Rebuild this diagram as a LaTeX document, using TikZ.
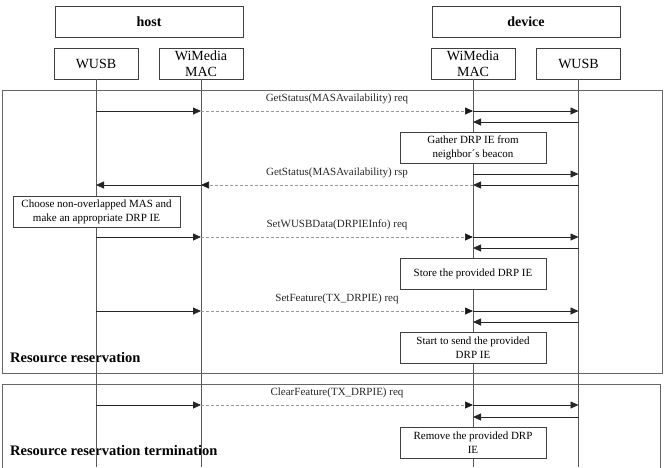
\documentclass[tikz,border=0pt]{standalone}
\usepackage{fontspec}
\setmainfont{Liberation Serif}
\usetikzlibrary{positioning, arrows.meta}
\tikzset{
group/.style={draw=black!75, minimum width=188pt, minimum height=31pt, inner sep=0pt, font=\fontsize{14}{16}\selectfont\bfseries},
part/.style={draw=black!75, minimum width=84pt, minimum height=31pt, inner sep=0pt, align=center, font=\fontsize{14}{16}\selectfont},
note/.style={draw=black!75, fill=white, minimum width=146pt, minimum height=31pt, inner sep=1pt, align=center, font=\fontsize{11}{14}\selectfont},
lifeline/.style={draw=black!65, line width=0.9pt},
frame/.style={draw=black!60, line width=1pt},
call/.style={draw=black!85, line width=0.8pt, -{Triangle[length=8pt,width=7pt]}},
relay/.style={draw=black!40, line width=0.7pt, dash pattern=on 3pt off 2pt, -{Triangle[length=8pt,width=7pt,color=black!90,fill=black!90]}},
msglabel/.style={above=3pt, text=black!85, font=\fontsize{11}{13}\selectfont},
phase/.style={anchor=west, inner sep=0pt, font=\fontsize{14.5}{16}\selectfont\bfseries},
}

\begin{document}
\begin{tikzpicture}[x=1pt, y=-1pt]
    \useasboundingbox (0,0) rectangle (664,467);

    %frames
    \draw[frame] (2,90) rectangle (662,373);
    \draw[frame] (2,384) rectangle (660,472);
    \node[phase] (resv) at (10,358) {Resource reservation};
    \node[phase] (term) at (10,451) {Resource reservation termination};

    %groups and parts
    \node[group] (host)   at (149,21.5) {host};
    \node[group] (device) at (526,21.5) {device};
    \node[part] (hwusb) at (96,63.5)  {WUSB};
    \node[part] (hmac)  at (201,63.5) {WiMedia\\MAC};
    \node[part] (dmac)  at (473,63.5) {WiMedia\\MAC};
    \node[part] (dwusb) at (578.5,63.5) {WUSB};

    % lifelines
    \coordinate (bottom) at (0,467);
    \draw[lifeline] (hwusb.south)--(hwusb |- bottom);
    \draw[lifeline] (hmac.south)--(hmac |- bottom);
    \draw[lifeline] (dmac.south)--(dmac |- bottom);
    \draw[lifeline] (dwusb.south)--(dwusb |- bottom);

    % message levels
    \coordinate (m1)  at (0,111);
    \coordinate (m2)  at (0,122);
    \coordinate (m3)  at (0,174);
    \coordinate (m4)  at (0,185);
    \coordinate (m5)  at (0,237);
    \coordinate (m6)  at (0,248);
    \coordinate (m7)  at (0,311);
    \coordinate (m8)  at (0,322);
    \coordinate (m9)  at (0,405);
    \coordinate (m10) at (0,417);

    % notes
    \node[note] (gather) at (473,147.5) {Gather DRP IE from\\neighbor´s beacon};
    \node[note, minimum width=167pt] (choose) at (96.5,211.5) {Choose non-overlapped MAS and\\make an appropriate DRP IE};
    \node[note] (store)  at (473,274)   {Store the provided DRP IE};
    \node[note] (start)  at (473,347.5) {Start to send the provided\\DRP IE};
    \node[note] (remove) at (473,442.5) {Remove the provided DRP\\IE};

    % GetStatus req
    \draw[call]  (hwusb |- m1)--(hmac |- m1);
    \draw[relay] (hmac |- m1)--(dmac |- m1) node[msglabel, midway] {GetStatus(MASAvailability) req};
    \draw[call]  (dmac |- m1)--(dwusb |- m1);
    \draw[call]  (dwusb |- m2)--(dmac |- m2);

    % GetStatus rsp
    \draw[call]  (dmac |- m3)--(dwusb |- m3);
    \draw[call]  (dwusb |- m4)--(dmac |- m4);
    \draw[relay] (dmac |- m4)--(hmac |- m4) node[msglabel, midway] {GetStatus(MASAvailability) rsp};
    \draw[call]  (hmac |- m4)--(hwusb |- m4);

    % SetWUSBData
    \draw[call]  (hwusb |- m5)--(hmac |- m5);
    \draw[relay] (hmac |- m5)--(dmac |- m5) node[msglabel, midway] {SetWUSBData(DRPIEInfo) req};
    \draw[call]  (dmac |- m5)--(dwusb |- m5);
    \draw[call]  (dwusb |- m6)--(dmac |- m6);

    % SetFeature
    \draw[call]  (hwusb |- m7)--(hmac |- m7);
    \draw[relay] (hmac |- m7)--(dmac |- m7) node[msglabel, midway] {SetFeature(TX\_DRPIE) req};
    \draw[call]  (dmac |- m7)--(dwusb |- m7);
    \draw[call]  (dwusb |- m8)--(dmac |- m8);

    % ClearFeature
    \draw[call]  (hwusb |- m9)--(hmac |- m9);
    \draw[relay] (hmac |- m9)--(dmac |- m9) node[msglabel, midway] {ClearFeature(TX\_DRPIE) req};
    \draw[call]  (dmac |- m9)--(dwusb |- m9);
    \draw[call]  (dwusb |- m10)--(dmac |- m10);
\end{tikzpicture}
\end{document}
